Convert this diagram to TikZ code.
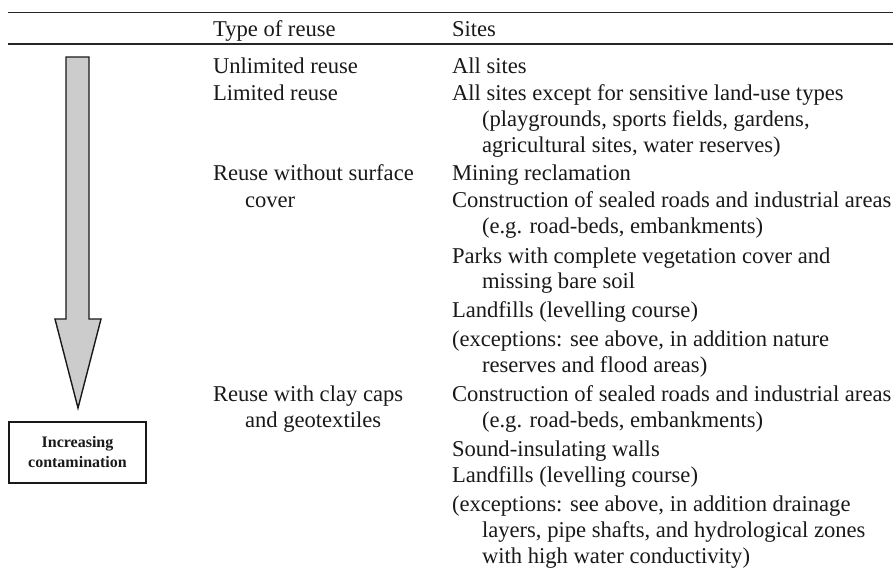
\documentclass[tikz,border=0pt]{standalone}
\usepackage{fontspec}
\setmainfont{Liberation Serif}
\begin{document}
\begin{tikzpicture}[x=1pt,y=-1pt,
  txt/.style={anchor=base west,inner sep=0pt,outer sep=0pt,font=\fontsize{22.6}{26}\selectfont,text=black!90},
  lbl/.style={draw=black!90,line width=1.4pt,minimum width=137pt,minimum height=61pt,inner sep=0pt,align=center,font=\fontsize{16}{20}\selectfont\bfseries,text=black!90},
  arrowshape/.style={draw=black!90,line width=1.4pt,fill=gray!40,line join=miter}]
\useasboundingbox (0,0) rectangle (893,584);
% rules
\coordinate (r1a) at (8,12);
\coordinate (r1b) at (893,12);
\coordinate (r2a) at (8,44);
\coordinate (r2b) at (893,44);
\draw[line width=1pt,black!85] (r1a) -- (r1b);
\draw[line width=2pt,black!85] (r2a) -- (r2b);
% header
\node[txt] (h1) at (213,36) {Type of reuse};
\node[txt] (h2) at (452,36) {Sites};
% arrow
\draw[arrowshape] (66,57) -- (89,57) -- (89,319) -- (101,319) -- (78,408) -- (55,319) -- (66,319) -- cycle;
\node[lbl] (box) at (77.5,452.5) {Increasing\\contamination};
% column 1
\node[txt] (a1) at (213,73) {Unlimited reuse};
\node[txt] (a2) at (213,100) {Limited reuse};
\node[txt] (a3) at (213,180) {Reuse without surface};
\node[txt] (a3b) at (245,207) {cover};
\node[txt] (a4) at (213,401) {Reuse with clay caps};
\node[txt] (a4b) at (245,427) {and geotextiles};
% column 2
\node[txt] (b1) at (452,73) {All sites};
\node[txt] (b2) at (452,100) {All sites except for sensitive land-use types};
\node[txt] (b2b) at (482,126) {(playgrounds, sports fields, gardens,};
\node[txt] (b2c) at (482,152) {agricultural sites, water reserves)};
\node[txt] (b3) at (452,180) {Mining reclamation};
\node[txt] (b4) at (452,207) {Construction of sealed roads and industrial areas};
\node[txt] (b4b) at (482,233) {(e.g. road-beds, embankments)};
\node[txt] (b5) at (452,263) {Parks with complete vegetation cover and};
\node[txt] (b5b) at (482,288) {missing bare soil};
\node[txt] (b6) at (452,317) {Landfills (levelling course)};
\node[txt] (b7) at (452,346) {(exceptions: see above, in addition nature};
\node[txt] (b7b) at (482,372) {reserves and flood areas)};
\node[txt] (c1) at (452,401) {Construction of sealed roads and industrial areas};
\node[txt] (c1b) at (482,427) {(e.g. road-beds, embankments)};
\node[txt] (c2) at (452,456) {Sound-insulating walls};
\node[txt] (c3) at (452,482) {Landfills (levelling course)};
\node[txt] (c4) at (452,511) {(exceptions: see above, in addition drainage};
\node[txt] (c4b) at (482,537) {layers, pipe shafts, and hydrological zones};
\node[txt] (c4c) at (482,563) {with high water conductivity)};
\end{tikzpicture}
\end{document}
